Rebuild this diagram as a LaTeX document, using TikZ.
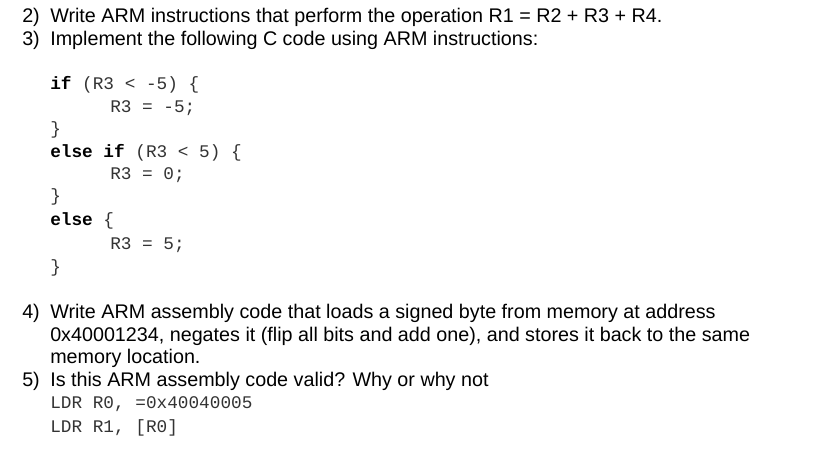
\documentclass[tikz,border=0pt]{standalone}
\usepackage{fontspec}
\setmainfont{Liberation Sans}
\setmonofont{Liberation Mono}
\begin{document}
\begin{tikzpicture}[x=0.75pt,y=-0.75pt,
  txt/.style={anchor=west,inner sep=0pt,font=\fontsize{14.8}{16}\selectfont},
  cd/.style={anchor=west,inner sep=0pt,font=\ttfamily\fontsize{13.3}{15}\selectfont,text=black!80}]
\useasboundingbox (0,0) rectangle (817,449);
\node[txt] (n2) at (22,17) {2)};
\node[txt] (t2) at (50,17) {Write ARM instructions that perform the operation R1 = R2 + R3 + R4.};
\node[txt] (n3) at (22,40) {3)};
\node[txt] (t3) at (50,40) {Implement the following C code using ARM instructions:};
\node[cd] (c1) at (50,85) {\textbf{\color{black}if} (R3 < -5) \{};
\node[cd] (c2) at (110,108) {R3 = -5;};
\node[cd] (c3) at (50,130) {\}};
\node[cd] (c4) at (50,153) {\textbf{\color{black}else if} (R3 < 5) \{};
\node[cd] (c5) at (110,175) {R3 = 0;};
\node[cd] (c6) at (50,197) {\}};
\node[cd] (c7) at (50,221) {\textbf{\color{black}else} \{};
\node[cd] (c8) at (110,245) {R3 = 5;};
\node[cd] (c9) at (50,268) {\}};
\node[txt] (n4) at (22,313) {4)};
\node[txt] (t4a) at (50,313) {Write ARM assembly code that loads a signed byte from memory at address};
\node[txt] (t4b) at (50,336) {0x40001234, negates it (flip all bits and add one), and stores it back to the same};
\node[txt] (t4c) at (50,358) {memory location.};
\node[txt] (n5) at (22,381) {5)};
\node[txt] (t5) at (50,381) {Is this ARM assembly code valid? Why or why not};
\node[cd] (d1) at (50,404) {LDR R0, =0x40040005};
\node[cd] (d2) at (50,428) {LDR R1, [R0]};
\end{tikzpicture}
\end{document}
